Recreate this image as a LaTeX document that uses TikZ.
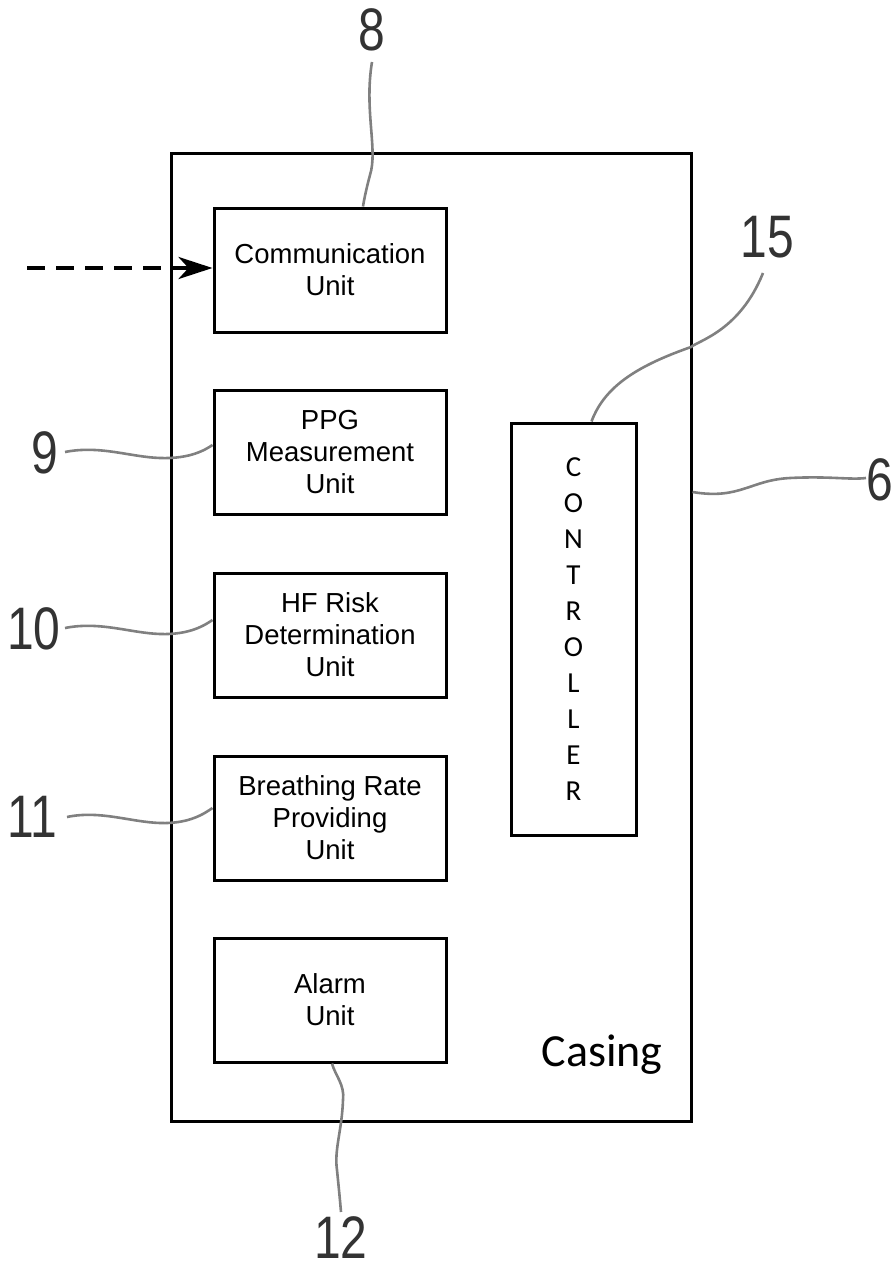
\documentclass[tikz,border=0pt]{standalone}
\usepackage{fontspec}
\setmainfont{Liberation Sans}
\newfontfamily\calib{Carlito}
\usetikzlibrary{arrows.meta}

\begin{document}
\begin{tikzpicture}[x=1pt,y=-1pt,
  casingbox/.style={draw, line width=3pt, minimum width=520pt, minimum height=968pt, inner sep=0pt},
  unitbox/.style={draw, line width=3pt, minimum width=232pt, minimum height=124pt,
    inner sep=0pt, align=center, font=\fontsize{27.5}{32}\selectfont},
  ctrlbox/.style={draw, line width=3pt, minimum width=125pt, minimum height=412pt,
    inner sep=0pt, align=center, font=\calib\fontsize{29}{36}\selectfont},
  refnum/.style={inner sep=0pt, text=black!80, font=\fontsize{60}{60}\selectfont},
  leader/.style={draw=black!50, line width=2.6pt},
  inarrow/.style={line width=4pt, dash pattern=on 18pt off 11pt,
    -{Stealth[length=34pt,width=22pt,inset=10pt]}}]
\useasboundingbox (0,0) rectangle (891,1271);

% housing and its functional blocks
\node[casingbox] (casing) at (431,637) {};
\node[unitbox] (comm) at (330,270) {Communication\\Unit};
\node[unitbox] (ppg)  at (330,452.5) {PPG\\Measurement\\Unit};
\node[unitbox] (hf)   at (330,635) {HF Risk\\Determination\\Unit};
\node[unitbox] (br)   at (330,818) {Breathing Rate\\Providing\\Unit};
\node[unitbox] (al)   at (330,1000) {Alarm\\Unit};
\node[ctrlbox] (ctrl) at (573.5,629) {C\\O\\N\\T\\R\\O\\L\\L\\E\\R};
\node[inner sep=0pt, font=\calib\fontsize{46}{46}\selectfont] (caslbl) at (602,1055) {Casing};

% incoming signal
\coordinate (src) at (27,268);
\draw[inarrow] (src) -- (comm.west |- src);

% reference numerals
\node[refnum] (l8)  at (372,30)  {\scalebox{0.8}[1]{8}};
\node[refnum] (l15) at (767,237) {\scalebox{0.8}[1]{15}};
\node[refnum] (l9)  at (45,453)  {\scalebox{0.8}[1]{9}};
\node[refnum] (l10) at (34,629)  {\scalebox{0.8}[1]{10}};
\node[refnum] (l11) at (32,817)  {\scalebox{0.8}[1]{11}};
\node[refnum, anchor=west] (l6) at (866,480) {\scalebox{0.8}[1]{6}};
\node[refnum] (l12) at (341,1238) {\scalebox{0.8}[1]{12}};

% leader lines
\draw[leader] ([yshift=-32pt]l8.center) .. controls (364,110) and (378,150) .. (370,175)
  .. controls (366,190) and (364,200) .. ([xshift=33pt]comm.north);
\draw[leader] ([xshift=-4pt,yshift=-36pt]l15.center) .. controls (740,330) and (700,340) .. (691,347)
  .. controls (640,365) and (605,385) .. ([xshift=18pt]ctrl.north);
\draw[leader] ([yshift=145pt]casing.east) .. controls (740,500) and (750,480) .. (790,478)
  .. controls (830,476) and (850,480) .. ([yshift=2pt]l6.west);
\draw[leader] ([xshift=20pt,yshift=1pt]l9.center) .. controls (100,445) and (130,457) .. (160,458)
  .. controls (190,459) and (205,450) .. ([yshift=7.5pt]ppg.west);
\draw[leader] ([xshift=31pt,yshift=1pt]l10.center) .. controls (100,621) and (130,633) .. (160,634)
  .. controls (190,635) and (205,625) .. ([yshift=15pt]hf.west);
\draw[leader] ([xshift=35pt]l11.center) .. controls (100,810) and (130,822) .. (160,823)
  .. controls (190,824) and (205,813) .. ([yshift=10pt]br.west);
\draw[leader] ([xshift=2pt]al.south) .. controls (335,1075) and (345,1085) .. (343,1100)
  .. controls (342,1130) and (334,1150) .. (337,1170)
  .. controls (339,1190) and (340,1200) .. ([yshift=26pt]l12.center);
\end{tikzpicture}
\end{document}
